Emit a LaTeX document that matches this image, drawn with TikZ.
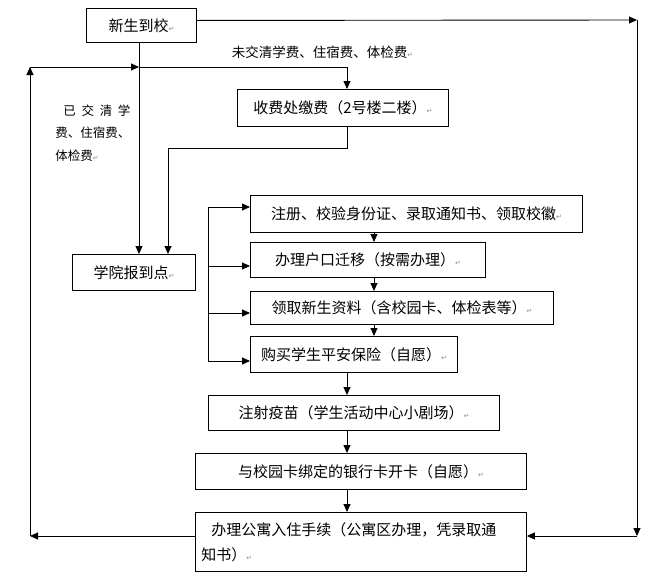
\documentclass[tikz,border=0pt]{standalone}
\usepackage{fontspec}
\setmainfont{Noto Sans CJK SC}
\newfontfamily\markfont{DejaVu Sans}
\usetikzlibrary{arrows.meta}
\newcommand\retmark{{\markfont\fontsize{7}{7}\selectfont\color{black!45}↵}}
\newcommand\boxfont{\fontsize{15}{25}\selectfont}
\begin{document}
\begin{tikzpicture}[x=1pt, y=-1pt, line width=0.9pt,
  box/.style={draw, inner sep=0pt, anchor=north west, font=\boxfont},
  arr/.style={-{Triangle[length=8pt,width=7pt]}}]
  \useasboundingbox (0,0) rectangle (662,581);
  % boxes
  \node[box, minimum width=110pt, minimum height=34pt] (arrive) at (86,8) {新生到校\retmark};
  \node[box, minimum width=211pt, minimum height=37pt] (cashier) at (237,89) {收费处缴费（2号楼二楼）\retmark};
  \node[box, minimum width=123pt, minimum height=36pt] (college) at (72,254) {学院报到点\retmark};
  \node[box, minimum width=332pt, minimum height=37pt] (register) at (250,195) {注册、校验身份证、录取通知书、领取校徽\retmark};
  \node[box, minimum width=235pt, minimum height=35pt] (hukou) at (250,242) {办理户口迁移（按需办理）\retmark};
  \node[box, minimum width=303pt, minimum height=33pt] (material) at (250,291) {领取新生资料（含校园卡、体检表等）\retmark};
  \node[box, minimum width=207pt, minimum height=36pt] (insure) at (250,336) {购买学生平安保险（自愿）\retmark};
  \node[box, minimum width=291pt, minimum height=35pt] (vaccine) at (208,395) {注射疫苗（学生活动中心小剧场）\retmark};
  \node[box, minimum width=331pt, minimum height=36pt] (bank) at (195,453) {与校园卡绑定的银行卡开卡（自愿）\retmark};
  \node[box, minimum width=331pt, minimum height=59pt, inner xsep=6pt, text width=319pt, align=left] (dorm) at (195,512)
    {\hspace*{10pt}办理公寓入住手续（公寓区办理，凭录取通\\知书）\retmark};
  % labels
  \node[anchor=west, font=\fontsize{13.5}{16}\selectfont] (unpaid) at (228,52) {未交清学费、住宿费、体检费\retmark};
  \node[anchor=north west, align=left, inner sep=0pt, font=\fontsize{12.5}{22.5}\selectfont] (paid) at (55,104)
    {\hspace*{8pt}\makebox[67pt]{已\hfill 交\hfill 清\hfill 学}\\费、住宿费、\\体检费\retmark};
  % corners
  \coordinate (ne) at (637,20);
  \coordinate (se) at (637,536);
  \coordinate (sw) at (30,536);
  \coordinate (nw) at (30,67);
  \coordinate (split) at (139,67);
  \coordinate (bend) at (168,148);
  \coordinate (axis1) at (374,0);
  \coordinate (axis2) at (347,0);
  % outer loop
  \draw[arr] ([yshift=5pt]arrive.east) -- (ne);
  \draw[arr] (ne) -- (se);
  \draw[arr] (se) -- (se -| dorm.east);
  \draw[arr] (sw -| dorm.west) -- (sw);
  \draw[arr] (sw) -- (nw);
  \draw[arr] (nw) -- (split);
  % fees
  \draw[arr] (split |- arrive.south) -- (split |- college.north);
  \draw[arr] (split) -| (axis2 |- cashier.north);
  \draw (axis2 |- cashier.south) |- (bend);
  \draw[arr] (bend) -- (bend |- college.north);
  % bracket
  \foreach \y/\n in {207/register, 266/hukou, 313/material, 361/insure}{
    \coordinate (b-\n) at (208,\y);
    \draw[arr] (b-\n) -- (b-\n -| \n.west);
  }
  \draw (b-register) -- (b-insure);
  % chain
  \draw[arr] (axis1 |- register.south) -- (axis1 |- hukou.north);
  \draw[arr] (axis1 |- hukou.south) -- (axis1 |- material.north);
  \draw[arr] (axis1 |- material.south) -- (axis1 |- insure.north);
  \draw[arr] (axis2 |- insure.south) -- (axis2 |- vaccine.north);
  \draw[arr] (axis2 |- vaccine.south) -- (axis2 |- bank.north);
  \draw[arr] (axis2 |- bank.south) -- (axis2 |- dorm.north);
\end{tikzpicture}
\end{document}
